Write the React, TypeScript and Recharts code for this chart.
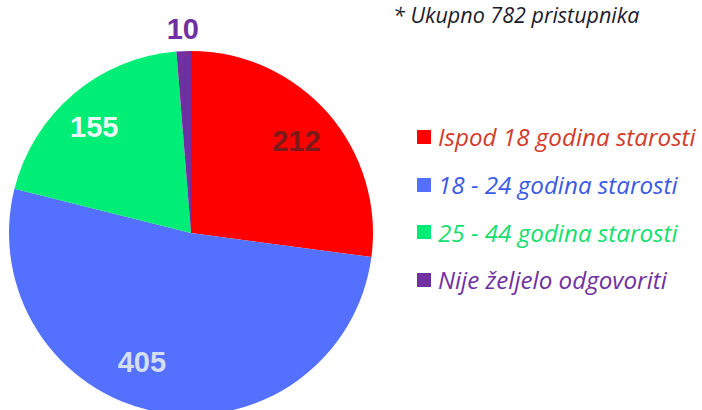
import { PieChart, Pie, Cell } from 'recharts';

const categories = [
  'Ispod 18 godina starosti',
  '18 - 24 godina starosti',
  '25 - 44 godina starosti',
  'Nije željelo odgovoriti',
];
const counts = [212, 405, 155, 10];
const sliceColors = ['#ff0000', '#5470ff', '#00ee76', '#7030a0'];
const legendTextColors = ['#d43a2a', '#3a5ae6', '#14e070', '#7030a0'];
const labelColors = ['#7a1a1a', '#d4def4', '#eef6f8', '#7030a0'];
const totalNote = '* Ukupno 782 pristupnika';

// label radius (fraction of outer radius) and angle nudge per slice
const labelRadius = [0.77, 0.76, 0.79, 1.12];
const labelAngleShift = [0, -10, 2, 0];

const RADIAN = Math.PI / 180;

const data = categories.map((name, i) => ({ name, value: counts[i] }));

function renderLabel(props: any) {
  const { cx, cy, midAngle, outerRadius, index, value } = props;
  const a = (midAngle + labelAngleShift[index]) * RADIAN;
  const r = outerRadius * labelRadius[index];
  const x = cx + r * Math.cos(a);
  const y = cy - r * Math.sin(a);
  return (
    <text
      x={x}
      y={y}
      fill={labelColors[index]}
      textAnchor="middle"
      dominantBaseline="central"
      style={{ fontFamily: '"Liberation Sans", Arial, sans-serif', fontWeight: 700, fontSize: 29 }}
    >
      {value}
    </text>
  );
}

export default function App() {
  return (
    <div style={{ position: 'absolute', left: 0, top: 0, width: 702, height: 410, background: '#fff', overflow: 'hidden' }}>
      <PieChart width={702} height={410} margin={{ top: 0, right: 0, bottom: 0, left: 0 }}>
        <Pie
          data={data}
          dataKey="value"
          nameKey="name"
          cx={191}
          cy={233}
          outerRadius={182}
          startAngle={90}
          endAngle={-270}
          stroke="none"
          labelLine={false}
          label={renderLabel}
          isAnimationActive={false}
        >
          {data.map((d, i) => (
            <Cell key={d.name} fill={sliceColors[i]} />
          ))}
        </Pie>
      </PieChart>
      <div
        style={{
          position: 'absolute',
          left: 393,
          top: 0,
          fontFamily: '"Open Sans", sans-serif',
          fontStyle: 'italic',
          fontSize: 21.5,
          color: '#1c1c2c',
          lineHeight: '29px',
        }}
      >
        {totalNote}
      </div>
      <div style={{ position: 'absolute', left: 417, top: 113 }}>
        {categories.map((c, i) => (
          <div
            key={c}
            style={{ display: 'flex', alignItems: 'center', height: 47.7 }}
          >
            <span style={{ width: 14, height: 14, background: sliceColors[i], marginRight: 7, display: 'inline-block' }} />
            <span
              style={{
                fontFamily: '"Open Sans", sans-serif',
                fontStyle: 'italic',
                fontSize: 24.2,
                color: legendTextColors[i],
                whiteSpace: 'nowrap',
              }}
            >
              {c}
            </span>
          </div>
        ))}
      </div>
    </div>
  );
}
